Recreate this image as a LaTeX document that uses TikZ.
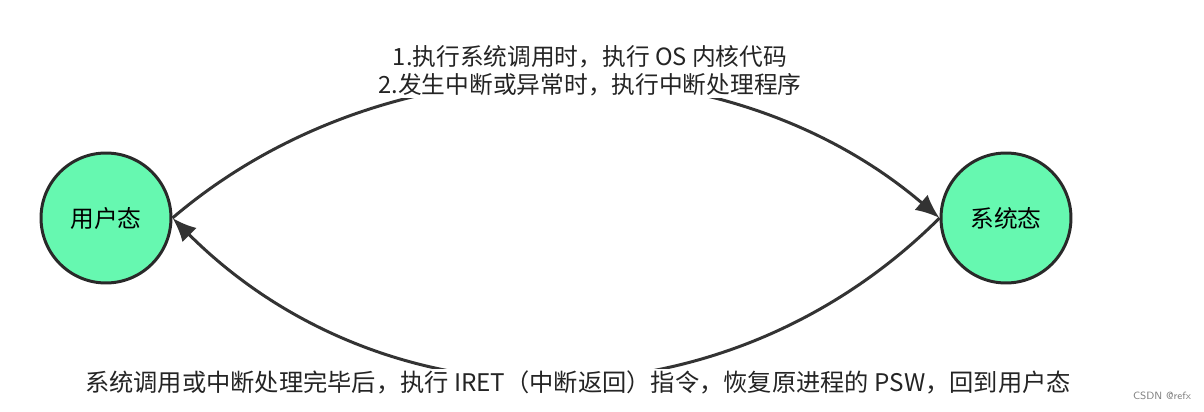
\documentclass[tikz,border=0pt]{standalone}
\usepackage{fontspec}
\newfontfamily\cjk{Noto Sans CJK SC}
\usetikzlibrary{arrows.meta, positioning}
\definecolor{mint}{HTML}{66F8B0}
\definecolor{inkgray}{HTML}{333333}

\begin{document}
\begin{tikzpicture}[x=0.02cm, y=-0.02cm, font=\cjk]

        % Setup the styles for the states and the labels
        \tikzset{state style/.style={circle,
                                     minimum size=2.6cm,
                                     line width=1.7pt,
                                     draw=inkgray!80!black,
                                     fill=mint,
                                     font=\cjk\fontsize{13.5}{15}\selectfont},
                 label style/.style={fill=white,
                                     inner sep=1pt,
                                     align=center,
                                     text=inkgray!70!black,
                                     font=\cjk\fontsize{13.5}{16}\selectfont}}

        \useasboundingbox (0, 0) rectangle (1204, 412);

        % Draw the states
        \node[state style] at (106, 218)  (USER)   {用户态};
        \node[state style] at (1006, 218) (KERNEL) {系统态};

        % Connect the states with arrows
        \draw[line width=1.7pt,
              draw=inkgray,
              -{Latex[length=4.8mm, width=4mm]}]
            (USER.east)   .. controls (387, 35)  and (725, 35)  .. (KERNEL.west);
        \draw[line width=1.7pt,
              draw=inkgray,
              -{Latex[length=4.8mm, width=4mm]}]
            (KERNEL.west) .. controls (725, 432) and (387, 432) .. (USER.east);

        % Labels on top of the arrows
        \node[label style] at (590, 71)  (enter) {1.执行系统调用时，执行 OS 内核代码\\2.发生中断或异常时，执行中断处理程序};
        \node[label style, font=\cjk\fontsize{13.8}{16}\selectfont] at (578, 382) (leave) {系统调用或中断处理完毕后，执行 IRET（中断返回）指令，恢复原进程的 PSW，回到用户态};

        % Watermark
        \node[text=gray, font=\sffamily\fontsize{6}{7}\selectfont] at (1162, 396) (mark) {CSDN @refx};
    \end{tikzpicture}
\end{document}
